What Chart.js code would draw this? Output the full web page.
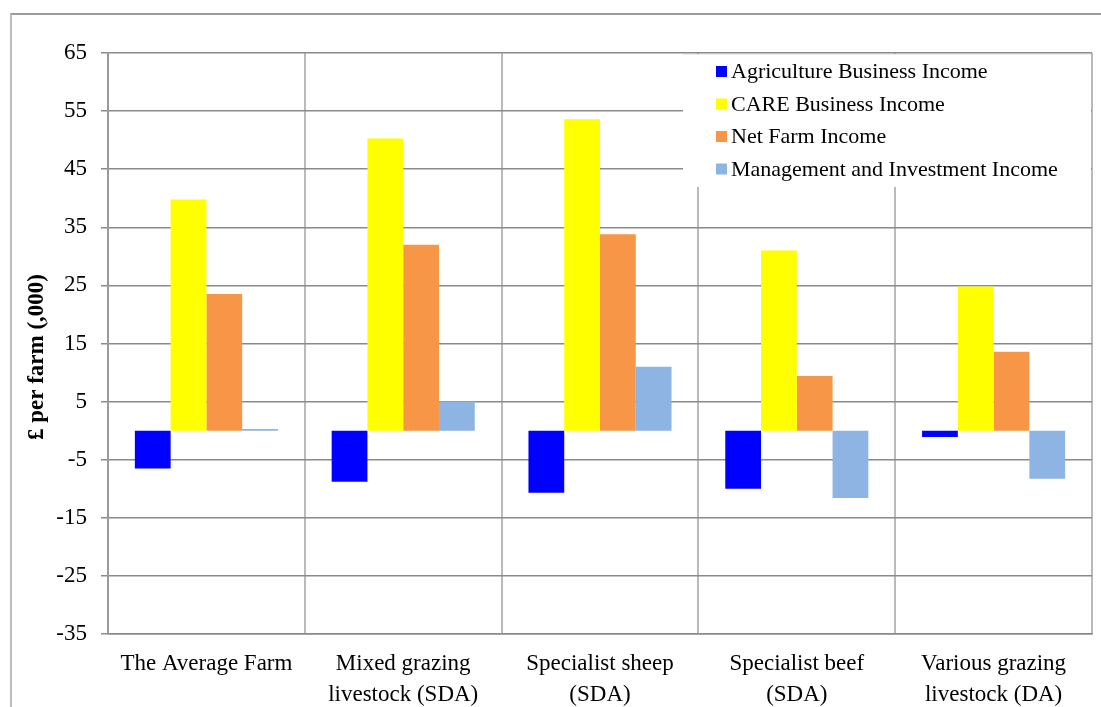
<!DOCTYPE html>
<html>
<head>
<meta charset="utf-8">
<script src="https://cdn.jsdelivr.net/npm/chart.js@4.4.1/dist/chart.umd.min.js"></script>
<style>
    html, body { margin: 0; padding: 0; background: #fff; }
    #wrap { position: relative; width: 1101px; height: 707px; overflow: hidden; }
    #frame {
        position: absolute; left: 10px; top: 13px; width: 1300px; height: 900px;
        border-left: 2px solid #bdbdbd; border-top: 2px solid #9c9c9c;
    }
    #incomeChart { position: absolute; left: 0; top: 0; }
</style>
</head>
<body>
<div id="wrap">
    <div id="frame"></div>
    <canvas id="incomeChart" width="1101" height="707"></canvas>
</div>
<script>
// ===============================
//  DATA
// ===============================
const categories = [
    "The Average Farm",
    ["Mixed grazing", "livestock (SDA)"],
    ["Specialist sheep", "(SDA)"],
    ["Specialist beef", "(SDA)"],
    ["Various grazing", "livestock (DA)"]
];

const seriesNames = [
    "Agriculture Business Income",
    "CARE Business Income",
    "Net Farm Income",
    "Management and Investment Income"
];

const agricultureBusiness = [-6.5, -8.8, -10.7, -10.0, -1.1];
const careBusiness = [39.8, 50.3, 53.6, 31.0, 24.8];
const netFarm = [23.5, 32.0, 33.8, 9.4, 13.6];
const managementInvestment = [0.3, 5.0, 11.0, -11.6, -8.3];

const yTicks = [-35, -25, -15, -5, 5, 15, 25, 35, 45, 55, 65];
const yTitle = "£ per farm (,000)";

const SERIES_COLOURS = ["#0000FF", "#FFFF00", "#F79646", "#8DB4E2"];

const SERIF = "'Liberation Serif', 'Times New Roman', serif";

// ===============================
//  LEGEND + Y TITLE PLUGIN
// ===============================
const boxLegend = {
    id: "boxLegend",
    afterDatasetsDraw(chart) {
        const { ctx, chartArea } = chart;
        const left = chartArea.right - 409;
        const top = chartArea.top + 1;

        ctx.save();
        ctx.fillStyle = "#fff";
        ctx.fillRect(left, top, chartArea.right - left - 1, 133);
        ctx.strokeStyle = "#ececec";
        ctx.lineWidth = 1;
        ctx.beginPath();
        ctx.moveTo(left, top + 0.5);
        ctx.lineTo(chartArea.right - 1, top + 0.5);
        ctx.stroke();

        ctx.font = "22px " + SERIF;
        ctx.textBaseline = "middle";
        ctx.textAlign = "left";
        chart.data.datasets.forEach((ds, i) => {
            const cy = top + 17.5 + i * 32.5;
            ctx.fillStyle = ds.backgroundColor;
            ctx.fillRect(left + 33, cy - 5.5, 11, 11);
            ctx.fillStyle = "#000";
            ctx.fillText(ds.label, left + 48, cy + 1);
        });
        ctx.restore();
    },
    afterDraw(chart) {
        const { ctx } = chart;
        ctx.save();
        ctx.translate(37, 357);
        ctx.rotate(-Math.PI / 2);
        ctx.font = "bold 23px " + SERIF;
        ctx.fillStyle = "#000";
        ctx.textAlign = "center";
        ctx.textBaseline = "middle";
        ctx.fillText(yTitle, 0, 0);
        ctx.restore();
    }
};

// ===============================
//  BUILD CHART
// ===============================
const seriesValues = [agricultureBusiness, careBusiness, netFarm, managementInvestment];

new Chart(document.getElementById("incomeChart"), {
    type: "bar",
    data: {
        labels: categories,
        datasets: seriesValues.map((vals, i) => ({
            label: seriesNames[i],
            data: vals,
            backgroundColor: SERIES_COLOURS[i],
            borderWidth: 0,
            categoryPercentage: 0.727,
            barPercentage: 1
        }))
    },
    options: {
        responsive: false,
        animation: false,
        layout: { padding: { left: 0, top: 53, right: 9, bottom: 0 } },
        plugins: {
            legend: { display: false },
            tooltip: { enabled: false }
        },
        scales: {
            x: {
                offset: true,
                grid: {
                    offset: true,
                    color: "#bababa",
                    lineWidth: 2,
                    drawTicks: false
                },
                border: { color: "#8a8a8a", width: 1.5 },
                ticks: {
                    color: "#000",
                    padding: 15,
                    maxRotation: 0,
                    autoSkip: false,
                    font: { family: SERIF, size: 23, lineHeight: 1.32 }
                },
                afterFit(scale) { scale.height = 73; }
            },
            y: {
                min: -35,
                max: 65,
                afterBuildTicks(scale) {
                    scale.ticks = yTicks.map(v => ({ value: v }));
                },
                grid: {
                    color: "#8a8a8a",
                    lineWidth: 1.5,
                    tickLength: 7,
                    tickColor: "#8a8a8a"
                },
                border: { color: "#9a9a9a", width: 2 },
                ticks: {
                    color: "#000",
                    padding: 14,
                    font: { family: SERIF, size: 23 }
                },
                afterFit(scale) { scale.width = 108; }
            }
        }
    },
    plugins: [boxLegend]
});
</script>
</body>
</html>
